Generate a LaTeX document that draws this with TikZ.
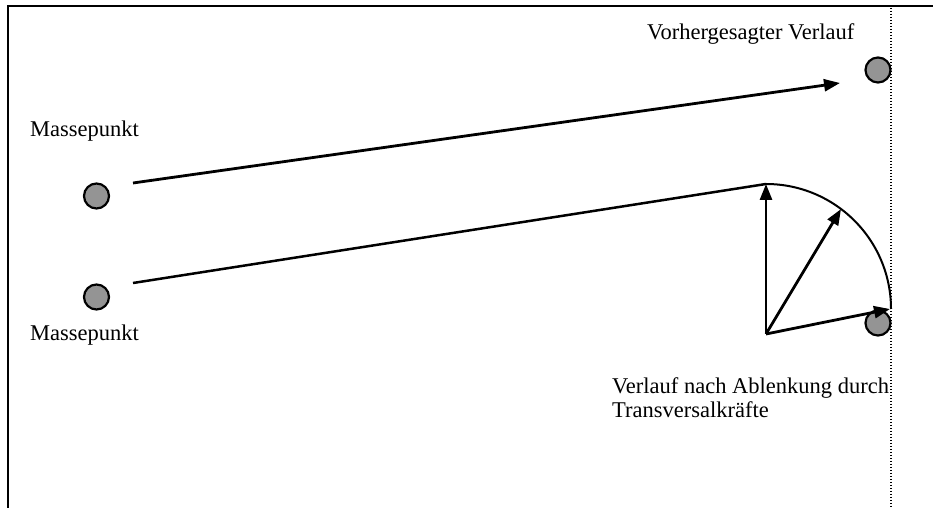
\documentclass[tikz,border=0pt]{standalone}
\usepackage{fontspec}
\setmainfont{Liberation Serif}
\usetikzlibrary{arrows.meta}
\begin{document}
\begin{tikzpicture}[x=1pt,y=1pt,
  mass/.style={circle,draw=black,line width=2.2pt,fill=black!42,minimum size=25pt,inner sep=0pt},
  lbl/.style={anchor=base west,inner sep=0pt,font=\fontsize{22.5}{23}\selectfont},
  vec/.style={line width=2.8pt,-{Triangle[length=16pt,width=12pt]}},
  path/.style={line width=2.5pt},
  frame/.style={line width=2.5pt},
  guide/.style={line width=1.4pt,dash pattern=on 1.2pt off 1.8pt}]
\useasboundingbox (0,0) rectangle (933,508);
% frame
\coordinate (fTR) at (933,502);
\coordinate (fTL) at (7,502);
\coordinate (fBL) at (8,0);
\draw[frame] (fTR) -- (fTL) -- (8,502) -- (fBL);
% mass points
\node[mass] (c1) at (96.5,312) {};
\node[mass] (c2) at (96.5,211) {};
\node[mass] (pred) at (878,438) {};
\node[mass] (defl) at (878,185) {};
% dotted guide
\coordinate (gT) at (891,500);
\coordinate (gB) at (891,0);
\draw[guide] (gT) -- (gB);
% labels
\node[lbl] (l1) at (30,371) {Massepunkt};
\node[lbl] (l2) at (30,167) {Massepunkt};
\node[lbl] (l3) at (647,468) {Vorhergesagter Verlauf};
\node[lbl] (l4) at (612,114) {Verlauf nach Ablenkung durch};
\node[lbl] (l5) at (612,90) {Transversalkräfte};
% coordinates
\coordinate (s1) at (133,325);
\coordinate (t1) at (840,425);
\coordinate (s2) at (133,225);
\coordinate (A) at (766,324);
\coordinate (O) at (766,174);
\coordinate (M) at (841,299);
\coordinate (E) at (890,199);
% predicted path
\draw[vec] (s1) -- (t1);
% deflected path
\draw[path] (s2) -- (A);
\draw[line width=2pt] (A) arc[start angle=90,end angle=0,radius=125];
\draw[vec] (O) -- (A);
\draw[vec] (O) -- (M);
\draw[vec] (O) -- (E);
\end{tikzpicture}
\end{document}
